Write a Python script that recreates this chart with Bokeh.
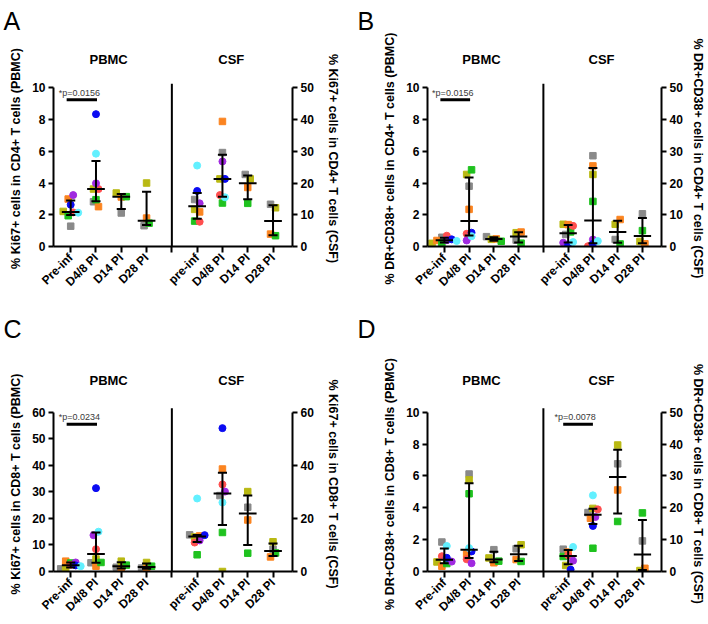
import math
import numpy as np
from bokeh.plotting import figure
from bokeh.models import Range1d, LinearAxis, FixedTicker, Label, ColumnDataSource, Title
from bokeh.layouts import column, row
from bokeh.embed import file_html
from bokeh.resources import INLINE

# ---------------- data ----------------
# subject order: gray, olive, orange, green (squares), red, purple, blue, cyan (circles)
SUBJECT_COLORS = ["#8a8a8a", "#b9b913", "#fb8420", "#1fc21f", "#ff4f4f", "#a02ae0", "#0b0bf2", "#62f0ff"]
SUBJECT_MARKERS = ["square"] * 4 + ["circle"] * 4

PBMC_LABELS = ["Pre-inf", "D4/8 PI", "D14 PI", "D28 PI"]
CSF_LABELS = ["pre-inf", "D4/8 PI", "D14 PI", "D28 PI"]
COMPARTMENTS = ["PBMC", "CSF"]

# Panel A: Ki67+ in CD4+ T cells
A_PBMC_PRE = [1.28, 2.21, 2.99, 1.94, 2.15, 3.24, 2.63, 2.13]
A_PBMC_D48 = [2.82, 3.62, 2.51, 2.95, 3.62, 3.98, 8.34, 5.85]
A_PBMC_D14 = [2.11, 3.37, 3.12, 3.14]
A_PBMC_D28 = [1.31, 4.00, 1.79, 1.47]
A_CSF_PRE = [14.8, 11.7, 10.9, 8.0, 7.8, 13.6, 17.5, 25.5]
A_CSF_D48 = [29.6, 21.3, 39.4, 13.7, 16.2, 26.8, 21.3, 15.5]
A_CSF_D14 = [22.7, 21.3, 18.6, 13.6]
A_CSF_D28 = [13.3, 12.2, 3.9, 3.4]

# Panel B: DR+CD38+ in CD4+ T cells
B_PBMC_PRE = [0.58, 0.20, 0.38, 0.22, 0.68, 0.40, 0.45, 0.35]
B_PBMC_D48 = [3.80, 4.54, 2.34, 4.83, 0.80, 0.38, 0.87, 0.65]
B_PBMC_D14 = [0.62, 0.45, 0.48, 0.33]
B_PBMC_D28 = [0.40, 0.87, 0.91, 0.21]
B_CSF_PRE = [3.8, 7.0, 6.9, 4.6, 6.5, 1.2, 0.4, 1.4]
B_CSF_D48 = [28.6, 22.7, 25.4, 14.2, 0.1, 2.2, 0.8, 1.7]
B_CSF_D14 = [2.2, 7.0, 8.5, 0.8]
B_CSF_D28 = [10.3, 1.6, 0.85, 5.0]

# Panel C: Ki67+ in CD8+ T cells
C_PBMC_PRE = [1.0, 1.3, 3.9, 3.2, 2.5, 3.4, 2.3, 2.0]
C_PBMC_D48 = [3.3, 4.7, 2.0, 3.4, 8.4, 13.7, 31.4, 15.0]
C_PBMC_D14 = [1.6, 3.9, 1.0, 2.4]
C_PBMC_D28 = [1.3, 3.4, 1.0, 2.0]
C_CSF_PRE = [13.8, 13.0, 13.4, 6.3, 10.9, 11.7, 13.7, 27.5]
C_CSF_D48 = [28.6, 0.0, 38.6, 14.7, 32.8, 30.1, 54.0, 26.0]
C_CSF_D14 = [24.2, 30.1, 19.4, 6.9]
C_CSF_D28 = [8.4, 11.2, 5.5, 7.0]

# Panel D: DR+CD38+ in CD8+ T cells
D_PBMC_PRE = [1.85, 0.60, 0.33, 0.50, 0.96, 0.62, 0.86, 1.60]
D_PBMC_D48 = [6.12, 5.75, 1.09, 4.88, 0.77, 0.52, 1.26, 1.47]
D_PBMC_D14 = [1.37, 0.85, 0.55, 0.65]
D_PBMC_D28 = [1.43, 1.68, 0.75, 0.63]
D_CSF_PRE = [7.0, 1.9, 6.1, 4.7, 5.1, 3.4, 0.6, 7.7]
D_CSF_D48 = [18.5, 19.8, 16.7, 7.3, 19.5, 17.1, 14.3, 23.9]
D_CSF_D14 = [33.8, 39.7, 25.6, 15.7]
D_CSF_D28 = [9.6, 0.3, 1.0, 18.4]

P_TEXTS = {"A": "*p=0.0156", "B": "*p=0.0156", "C": "*p=0.0234", "D": "*p=0.0078"}

FONT = "Liberation Sans"
X0, X1 = 0.32, 9.77


def swarm(vals, pxu, step, d=5.5):
    order = sorted(range(len(vals)), key=lambda i: vals[i])
    offs = [0.0] * len(vals)
    i = 0
    while i < len(order):
        members = [order[i]]
        j = i + 1
        while j < len(order) and (vals[order[j]] - vals[order[i]]) * pxu < d:
            members.append(order[j])
            j += 1
        members.sort()
        n = len(members)
        for k, s in enumerate(members):
            offs[s] = (k - (n - 1) / 2) * step
        i = j
    return offs


def style_axis(ax, tick_out):
    ax.axis_line_width = 2
    ax.axis_line_color = "black"
    ax.major_tick_line_width = 2
    ax.major_tick_line_color = "black"
    ax.major_tick_out = tick_out
    ax.major_tick_in = 0
    ax.minor_tick_out = 0
    ax.minor_tick_in = 0
    ax.major_label_text_font = FONT
    ax.major_label_text_font_style = "bold"
    ax.major_label_text_font_size = "12px"
    ax.major_label_text_color = "black"
    ax.axis_label_text_font = FONT
    ax.axis_label_text_font_style = "bold"
    ax.axis_label_text_font_size = "12.5px"
    ax.axis_label_text_color = "black"


def make_panel(letter, pbmc, csf, ylab_l, ylab_r, lmax, lticks, rmax, rticks, pbar, geom):
    (W, H, bl, br, bt, bb, ph, head_standoff, spacer_size, spacer_standoff, r_standoff) = geom
    fw = W - bl - br
    fh = H - bt - bb
    pxx = fw / (X1 - X0)
    pyl = ph / lmax
    pyr = ph / rmax
    ytop = lmax * fh / ph

    p = figure(width=W, height=H, x_range=Range1d(X0, X1), y_range=Range1d(0, ytop),
               output_backend="svg", toolbar_location=None,
               min_border_left=bl, min_border_right=br, min_border_top=bt, min_border_bottom=bb)
    p.grid.visible = False
    p.outline_line_color = None
    p.background_fill_color = "white"
    p.border_fill_color = "white"

    # compartment headings: a bare axis directly above the frame
    head = LinearAxis(ticker=FixedTicker(ticks=[2.5, 7.35]),
                      major_label_overrides={2.5: COMPARTMENTS[0], 7.35: COMPARTMENTS[1]})
    head.axis_line_color = None
    head.major_tick_line_color = None
    head.minor_tick_line_color = None
    head.major_tick_out = 0
    head.major_tick_in = 0
    head.minor_tick_out = 0
    head.minor_tick_in = 0
    head.major_label_standoff = head_standoff
    head.major_label_text_font = FONT
    head.major_label_text_font_style = "bold"
    head.major_label_text_font_size = "13px"
    head.major_label_text_color = "black"
    p.add_layout(head, "above")

    # blank spacer between headings and the panel letter
    p.add_layout(Title(text=" ", text_font=FONT, text_font_size=spacer_size,
                       standoff=spacer_standoff), "above")

    # panel letter as the figure title, pushed to the panel's left edge
    p.title.text = letter
    p.title.text_font = FONT
    p.title.text_font_style = "normal"
    p.title.text_font_size = "25px"
    p.title.text_color = "black"
    p.title.align = "left"
    p.title.offset = -(bl - 3)
    p.title.standoff = 0

    p.extra_y_ranges = {"r": Range1d(0, rmax * fh / ph)}
    raxis = LinearAxis(y_range_name="r", ticker=FixedTicker(ticks=rticks), bounds=(0, rmax))
    p.add_layout(raxis, "right")

    lax = p.left[0]
    lax.ticker = FixedTicker(ticks=lticks)
    lax.bounds = (0, lmax)
    lax.axis_label = ylab_l
    style_axis(lax, 5)
    lax.major_label_standoff = 3
    lax.axis_label_standoff = 6

    raxis.axis_label = ylab_r
    style_axis(raxis, 5)
    raxis.major_label_standoff = 3
    raxis.axis_label_standoff = r_standoff

    xax = p.below[0]
    xax.ticker = FixedTicker(ticks=[1, 2, 3, 4, 5, 6, 7, 8, 9])
    overrides = {i + 1: lab for i, lab in enumerate(PBMC_LABELS)}
    overrides.update({i + 6: lab for i, lab in enumerate(CSF_LABELS)})
    overrides[5] = ""
    xax.major_label_overrides = overrides
    style_axis(xax, 6)
    xax.major_label_standoff = 3
    xax.major_label_orientation = math.pi / 4

    # divider between compartments
    p.segment(x0=[5], y0=[0], x1=[5], y1=[lmax + 4 / pyl], line_width=2, line_color="black")

    for groups, base, yname, pyu in ((pbmc, 1, "default", pyl), (csf, 6, "r", pyr)):
        xs, ys, cs, ms, ss = [], [], [], [], []
        mx0, mx1, my = [], [], []
        wx, wy0, wy1 = [], [], []
        cx0, cx1, cy = [], [], []
        for gi, vals in enumerate(groups):
            pos = base + gi
            offs = swarm(vals, pyu, step=5.0 / pxx)
            for si, v in enumerate(vals):
                xs.append(pos + offs[si])
                ys.append(v)
                cs.append(SUBJECT_COLORS[si])
                ms.append(SUBJECT_MARKERS[si])
                ss.append(6.5 if SUBJECT_MARKERS[si] == "square" else 7)
            q1, med, q3 = np.percentile(vals, [25, 50, 75], method="weibull")
            mx0.append(pos - 0.35); mx1.append(pos + 0.35); my.append(med)
            wx.append(pos); wy0.append(q1); wy1.append(q3)
            for q in (q1, q3):
                cx0.append(pos - 0.18); cx1.append(pos + 0.18); cy.append(q)
        src = ColumnDataSource(dict(x=xs, y=ys, c=cs, m=ms, s=ss))
        p.scatter(x="x", y="y", marker="m", size="s", fill_color="c", line_color="c",
                  source=src, y_range_name=yname)
        p.segment(x0=mx0, y0=my, x1=mx1, y1=my, line_width=2, line_color="black", y_range_name=yname)
        p.segment(x0=wx, y0=wy0, x1=wx, y1=wy1, line_width=2, line_color="black", y_range_name=yname)
        p.segment(x0=cx0, y0=cy, x1=cx1, y1=cy, line_width=2, line_color="black", y_range_name=yname)

    # significance bar
    bx0, bx1, btx = pbar
    by = lmax * 0.925
    p.segment(x0=[bx0], y0=[by], x1=[bx1], y1=[by], line_width=3, line_color="black")
    p.add_layout(Label(x=btx, y=by + 7 / pyl, text=P_TEXTS[letter], text_font=FONT,
                       text_font_size="9px", text_color="#3a3a3a", text_align="center",
                       text_baseline="middle"))
    return p


# W, H, border_left, border_right, border_top, border_bottom, px height of 0..max,
# heading standoff, spacer font size, spacer standoff, right label standoff
GEOM_A = (354, 310, 53, 62, 70, 64, 158.7, 4, "11px", 0, 9)
GEOM_B = (353, 310, 73, 42, 70, 64, 158.7, 4, "11px", 0, 5)
GEOM_C = (354, 312, 53, 62, 86, 51, 159.3, 9, "14px", 9, 9)
GEOM_D = (353, 312, 73, 42, 86, 51, 159.3, 9, "14px", 9, 5)

pA = make_panel("A", [A_PBMC_PRE, A_PBMC_D48, A_PBMC_D14, A_PBMC_D28],
                [A_CSF_PRE, A_CSF_D48, A_CSF_D14, A_CSF_D28],
                "% Ki67+ cells in CD4+ T cells (PBMC)", "% Ki67+ cells in CD4+ T cells (CSF)",
                10, [0, 2, 4, 6, 8, 10], 50, [0, 10, 20, 30, 40, 50],
                (0.84, 2.04, 1.34), GEOM_A)
pB = make_panel("B", [B_PBMC_PRE, B_PBMC_D48, B_PBMC_D14, B_PBMC_D28],
                [B_CSF_PRE, B_CSF_D48, B_CSF_D14, B_CSF_D28],
                "% DR+CD38+ cells in CD4+ T cells (PBMC)", "% DR+CD38+ cells in CD4+ T cells (CSF)",
                10, [0, 2, 4, 6, 8, 10], 50, [0, 10, 20, 30, 40, 50],
                (0.84, 2.04, 1.34), GEOM_B)
pC = make_panel("C", [C_PBMC_PRE, C_PBMC_D48, C_PBMC_D14, C_PBMC_D28],
                [C_CSF_PRE, C_CSF_D48, C_CSF_D14, C_CSF_D28],
                "% Ki67+ cells in CD8+ T cells (PBMC)", "% Ki67+ cells in CD8+ T cells (CSF)",
                60, [0, 10, 20, 30, 40, 50, 60], 60, [0, 20, 40, 60],
                (0.84, 2.04, 1.34), GEOM_C)
pD = make_panel("D", [D_PBMC_PRE, D_PBMC_D48, D_PBMC_D14, D_PBMC_D28],
                [D_CSF_PRE, D_CSF_D48, D_CSF_D14, D_CSF_D28],
                "% DR+CD38+ cells in CD8+ T cells (PBMC)", "% DR+CD38+ cells in CD8+ T cells (CSF)",
                10, [0, 2, 4, 6, 8, 10], 50, [0, 10, 20, 30, 40, 50],
                (5.80, 7.00, 6.28), GEOM_D)

layout = column(row(pA, pB), row(pC, pD))
open("out.html", "w").write(file_html(layout, INLINE))
